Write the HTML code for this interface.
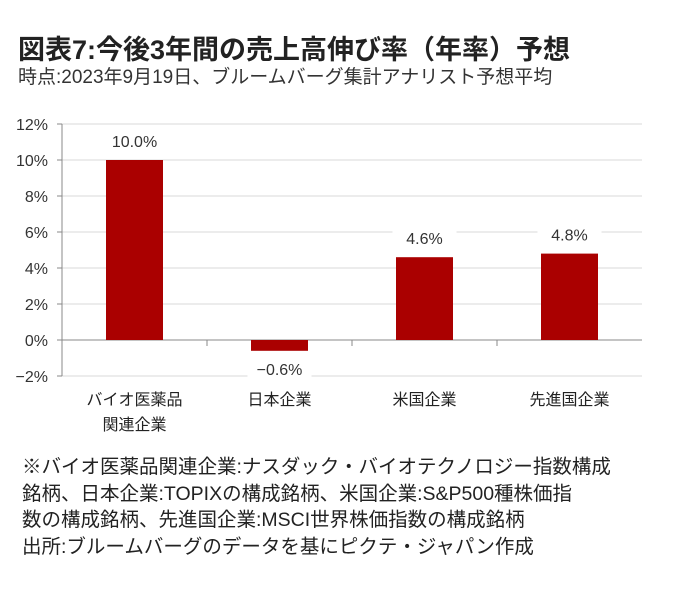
<!DOCTYPE html>
<html><head><meta charset="utf-8"><style>
body{margin:0;background:#fff;font-family:"Liberation Sans","Noto Sans CJK JP",sans-serif;color:#222}
#wrap{position:relative;width:688px;height:598px;overflow:hidden}
.t{position:absolute;white-space:nowrap}
</style></head><body><div id="wrap">
<div class="t" style="left:18px;top:28px;font-size:27px;font-weight:bold;color:#222">図表7:今後3年間の売上高伸び率（年率）予想</div>
<div class="t" style="left:18px;top:62px;font-size:19px;color:#333">時点:2023年9月19日、ブルームバーグ集計アナリスト予想平均</div>
<svg id="chart" width="688" height="440" style="position:absolute;left:0;top:0"></svg>
<div class="t" style="left:22px;top:454px;font-size:19.5px;line-height:26.5px;color:#222">※バイオ医薬品関連企業:ナスダック・バイオテクノロジー指数構成<br>銘柄、日本企業:TOPIXの構成銘柄、米国企業:S&amp;P500種株価指<br>数の構成銘柄、先進国企業:MSCI世界株価指数の構成銘柄<br>出所:ブルームバーグのデータを基にピクテ・ジャパン作成</div>
</div>
<script>
const categories=[["バイオ医薬品","関連企業"],["日本企業"],["米国企業"],["先進国企業"]];
const values=[10.0,-0.6,4.6,4.8];
const valueLabels=["10.0%","-0.6%","4.6%","4.8%"];
const ticks=[-2,0,2,4,6,8,10,12];
const svg=document.getElementById('chart');const NS='http://www.w3.org/2000/svg';
const x0=62,x1=642,yTop=124,yBot=376,vMin=-2,vMax=12;
const y=v=>yBot-(v-vMin)/(vMax-vMin)*(yBot-yTop);
const bw=(x1-x0)/categories.length;
const xc=i=>x0+bw*(i+0.5);
function mk(t,a){const e=document.createElementNS(NS,t);for(const k in a)e.setAttribute(k,a[k]);svg.appendChild(e);return e;}
ticks.forEach(v=>{
 const g=mk('line',{x1:x0,x2:x1,y1:y(v),y2:y(v),stroke:v===0?'#888':'#d9d9d9','stroke-width':1});
 
 
 const tk=mk('line',{x1:x0-5,x2:x0,y1:y(v),y2:y(v),stroke:'#888'});
 
 
 const t=mk('text',{x:48,y:y(v)+6,'text-anchor':'end','font-size':16,fill:'#333'});t.textContent=(v<0?'−'+(-v):v)+'%';
 
 
});
const ax=mk('line',{x1:x0,x2:x0,y1:yTop,y2:yBot,stroke:'#888'});


for(let i=1;i<categories.length;i++){const l=mk('line',{x1:x0+bw*i,x2:x0+bw*i,y1:y(0),y2:y(0)+6,stroke:'#888'});
 
 }
values.forEach((v,i)=>{
 const top=Math.min(y(v),y(0)),h=Math.abs(y(v)-y(0));
 const r=mk('rect',{x:xc(i)-28.5,y:top,width:57,height:h,fill:'#aa0000'});
 
 
 const ly=v>=0?y(v)-13:y(v)+24;
 const bg=mk('rect',{x:xc(i)-32,y:ly-15,width:64,height:20,fill:'#fff'});
 
 
 const t=mk('text',{x:xc(i),y:ly,'text-anchor':'middle','font-size':16,fill:'#333'});t.textContent=valueLabels[i].replace('-','−');
 
 
 categories[i].forEach((s,j)=>{const c=mk('text',{x:xc(i),y:405+j*25,'text-anchor':'middle','font-size':16,fill:'#222'});c.textContent=s;
  
  });
});
</script></body></html>
